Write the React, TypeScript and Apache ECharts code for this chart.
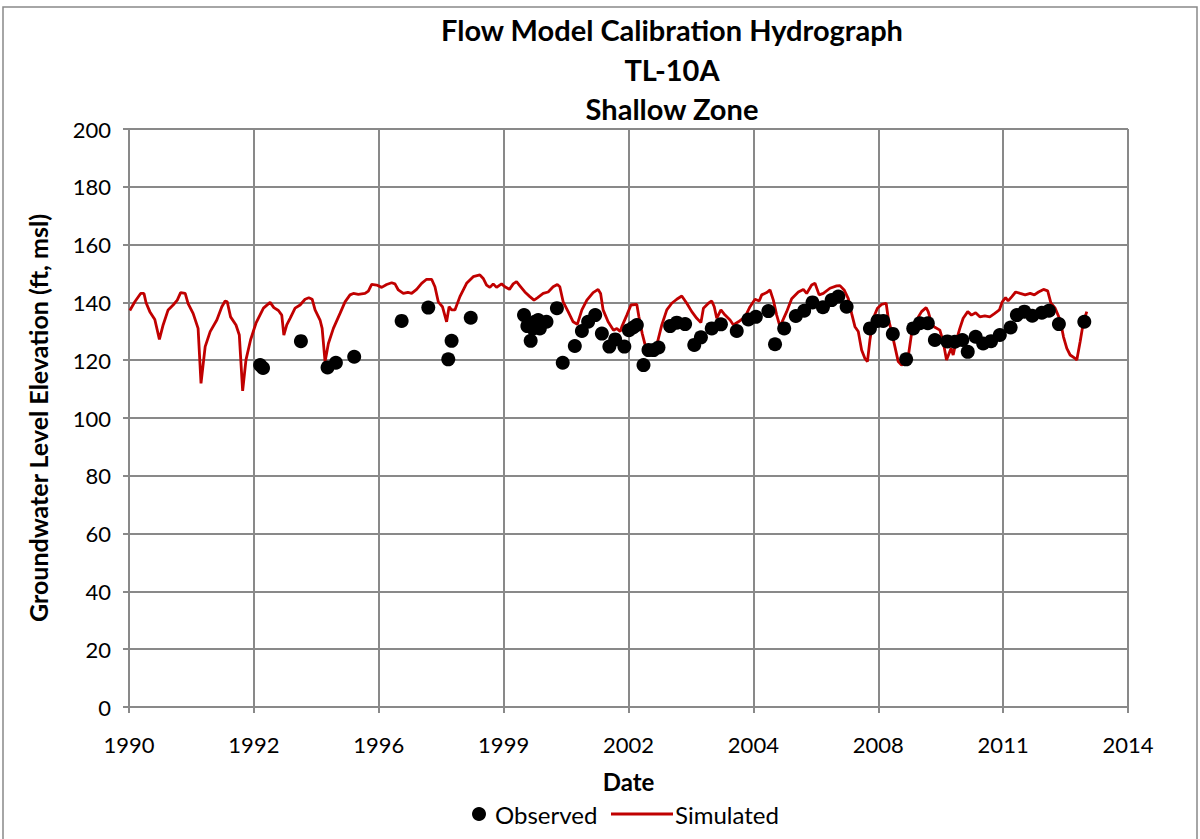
import React, { useEffect, useRef } from "react";
import * as echarts from "echarts";

const xTickLabels = ["1990", "1992", "1996", "1999", "2002", "2004", "2008", "2011", "2014"];

// Simulated groundwater elevation: [decimal year, ft msl]
const simYears = [
  1990.02, 1990.14, 1990.28, 1990.36, 1990.41, 1990.5, 1990.62, 1990.73, 1990.82, 1990.94,
  1991.06, 1991.16, 1991.24, 1991.35, 1991.42, 1991.54, 1991.66, 1991.73, 1991.83, 1991.95,
  1992.11, 1992.23, 1992.31, 1992.36, 1992.44, 1992.57, 1992.65, 1992.73, 1992.81, 1992.92,
  1993.05, 1993.23, 1993.39, 1993.48, 1993.59, 1993.67, 1993.72, 1993.79, 1993.87, 1993.99,
  1994.11, 1994.23, 1994.32, 1994.4, 1994.47, 1994.59, 1994.64, 1994.71, 1994.79, 1994.91,
  1995.07, 1995.19, 1995.31, 1995.39, 1995.51, 1995.67, 1995.75, 1995.83, 1995.95, 1996.07,
  1996.19, 1996.31, 1996.39, 1996.47, 1996.59, 1996.7, 1996.79, 1996.91, 1997.03, 1997.15,
  1997.27, 1997.35, 1997.43, 1997.53, 1997.63, 1997.69, 1997.75, 1997.83, 1997.95, 1998.11,
  1998.27, 1998.43, 1998.51, 1998.59, 1998.67, 1998.75, 1998.83, 1998.95, 1999.03, 1999.14,
  1999.23, 1999.31, 1999.41, 1999.51, 1999.63, 1999.73, 1999.81, 1999.95, 2000.07, 2000.19,
  2000.29, 2000.35, 2000.43, 2000.55, 2000.67, 2000.77, 2000.88, 2001.0, 2001.15, 2001.27,
  2001.33, 2001.39, 2001.51, 2001.64, 2001.72, 2001.8, 2001.84, 2001.96, 2002.06, 2002.2,
  2002.25, 2002.33, 2002.41, 2002.48, 2002.57, 2002.68, 2002.8, 2002.92, 2003.04, 2003.16,
  2003.28, 2003.4, 2003.52, 2003.64, 2003.74, 2003.8, 2003.92, 2004.0, 2004.06, 2004.12,
  2004.22, 2004.32, 2004.44, 2004.52, 2004.64, 2004.8, 2004.92, 2005.04, 2005.14, 2005.2,
  2005.32, 2005.4, 2005.48, 2005.56, 2005.64, 2005.8, 2005.92, 2006.08, 2006.2, 2006.28,
  2006.4, 2006.48, 2006.58, 2006.68, 2006.84, 2007.0, 2007.08, 2007.18, 2007.28, 2007.36,
  2007.44, 2007.52, 2007.6, 2007.68, 2007.74, 2007.8, 2007.88, 2007.98, 2008.08, 2008.19,
  2008.24, 2008.32, 2008.4, 2008.48, 2008.56, 2008.64, 2008.72, 2008.8, 2008.92, 2009.04,
  2009.15, 2009.2, 2009.28, 2009.34, 2009.48, 2009.56, 2009.64, 2009.75, 2009.8, 2009.88,
  2009.96, 2010.04, 2010.15, 2010.24, 2010.34, 2010.44, 2010.56, 2010.68, 2010.8, 2010.91,
  2010.98, 2011.06, 2011.12, 2011.21, 2011.3, 2011.41, 2011.53, 2011.65, 2011.75, 2011.85,
  2011.97, 2012.07, 2012.15, 2012.25, 2012.37, 2012.45, 2012.53, 2012.61, 2012.73, 2012.77,
  2012.85, 2012.93, 2013.01,
];
const simElev = [
  137.2, 140.2, 143.1, 143.1, 139.9, 136.8, 134.1, 127.2, 132.2, 137.4,
  139.1, 140.8, 143.4, 143.1, 139.6, 136.2, 131.0, 112.0, 124.7, 129.9,
  133.9, 138.5, 140.5, 140.2, 135.0, 132.2, 128.7, 109.4, 120.1, 127.0,
  132.8, 138.0, 140.0, 138.2, 137.2, 135.6, 128.7, 132.2, 134.5, 138.0,
  139.1, 141.1, 141.6, 141.1, 137.4, 133.9, 131.0, 119.5, 125.8, 131.0,
  136.2, 140.2, 142.6, 143.1, 142.8, 143.1, 143.9, 146.2, 146.0, 145.2,
  146.2, 146.8, 146.4, 144.3, 143.1, 143.5, 143.1, 144.5, 146.6, 148.0,
  148.0, 145.4, 140.2, 138.5, 133.3, 138.5, 137.4, 137.4, 142.0, 146.6,
  148.9, 149.5, 148.3, 146.0, 145.2, 146.4, 145.2, 146.4, 145.4, 144.5,
  146.4, 147.2, 145.4, 143.6, 142.0, 140.8, 141.6, 143.1, 143.6, 145.4,
  146.2, 145.4, 140.2, 136.8, 133.3, 132.4, 137.4, 140.8, 143.4, 144.5,
  143.1, 137.4, 133.3, 130.4, 131.0, 129.9, 131.6, 135.6, 139.1, 139.3,
  135.0, 129.2, 124.7, 121.8, 123.5, 125.3, 132.2, 137.4, 139.7, 141.1,
  142.2, 139.7, 136.8, 134.5, 133.0, 138.0, 139.7, 140.5, 138.5, 134.5,
  137.4, 135.6, 133.9, 132.2, 133.3, 135.0, 138.5, 141.1, 140.5, 142.6,
  143.4, 144.3, 140.8, 135.6, 131.6, 136.8, 141.3, 143.6, 144.5, 143.1,
  146.0, 146.6, 142.6, 143.1, 144.9, 145.7, 145.8, 144.3, 141.3, 136.2,
  131.6, 129.9, 123.5, 120.6, 119.5, 127.0, 134.5, 138.0, 139.3, 139.7,
  134.5, 129.9, 124.7, 119.5, 118.3, 118.9, 121.2, 129.2, 133.9, 136.8,
  138.2, 136.8, 132.8, 131.6, 130.4, 126.4, 120.1, 124.1, 121.8, 127.0,
  131.0, 134.5, 136.8, 135.6, 136.4, 135.0, 135.3, 135.0, 136.2, 137.4,
  140.2, 141.7, 140.5, 142.0, 143.6, 143.1, 142.6, 143.1, 142.6, 143.6,
  144.5, 144.0, 139.7, 138.0, 133.9, 128.1, 124.1, 121.8, 120.6, 120.1,
  126.4, 133.3, 136.8,
];

// Observed groundwater elevation: [decimal year, ft msl]
const obsYears = [
  1993.15, 1993.22, 1994.13, 1994.77, 1994.97, 1995.41, 1996.55, 1997.19, 1997.67, 1997.75,
  1998.21, 1999.49, 1999.57, 1999.65, 1999.71, 1999.75, 1999.83, 1999.87, 2000.03, 2000.28,
  2000.42, 2000.71, 2000.88, 2001.03, 2001.2, 2001.36, 2001.54, 2001.68, 2001.9, 2002.01,
  2002.11, 2002.2, 2002.36, 2002.48, 2002.6, 2002.72, 2003.0, 2003.16, 2003.36, 2003.58,
  2003.74, 2004.0, 2004.22, 2004.6, 2004.88, 2005.06, 2005.36, 2005.52, 2005.74, 2006.02,
  2006.22, 2006.42, 2006.67, 2006.88, 2007.04, 2007.24, 2007.8, 2007.98, 2008.12, 2008.35,
  2008.67, 2008.84, 2009.0, 2009.19, 2009.36, 2009.66, 2009.84, 2010.02, 2010.15, 2010.34,
  2010.52, 2010.71, 2010.92, 2011.18, 2011.33, 2011.51, 2011.7, 2011.93, 2012.1, 2012.34,
  2012.95,
];
const obsElev = [
  118.3, 117.3, 126.6, 117.5, 119.1, 121.2, 133.6, 138.2, 120.3, 126.7,
  134.7, 135.6, 131.8, 126.7, 131.0, 133.3, 133.9, 131.0, 133.3, 138.0,
  119.1, 124.9, 130.1, 133.3, 135.6, 129.2, 124.7, 127.2, 124.7, 130.4,
  131.3, 132.2, 118.3, 123.5, 123.5, 124.4, 131.8, 133.0, 132.5, 125.3,
  127.9, 131.0, 132.4, 130.1, 134.1, 135.0, 137.0, 125.5, 131.0, 135.3,
  137.1, 140.0, 138.3, 140.8, 142.0, 138.5, 131.0, 133.6, 133.6, 129.1,
  120.3, 131.0, 132.8, 132.8, 127.0, 126.5, 126.4, 127.0, 122.9, 128.1,
  125.8, 126.6, 128.7, 131.3, 135.6, 136.8, 135.4, 136.4, 137.1, 132.5,
  133.3,
];

const FONT = "Lato, 'Open Sans', sans-serif";
const GRID_COLOR = "#898989";

export default function App() {
  const ref = useRef<HTMLDivElement>(null);

  useEffect(() => {
    if (!ref.current) return;
    const chart = echarts.init(ref.current, undefined, { renderer: "svg" });
    const simData = simYears.map((x, i) => [x, simElev[i]]);
    const obsData = obsYears.map((x, i) => [x, obsElev[i]]);

    chart.setOption({
      animation: false,
      backgroundColor: "#ffffff",
      textStyle: { fontFamily: FONT },
      title: {
        text: "Flow Model Calibration Hydrograph\nTL-10A\nShallow Zone",
        left: 667,
        top: 5,
        textAlign: "center",
        textStyle: {
          fontFamily: FONT,
          fontWeight: "bold",
          fontSize: 29,
          lineHeight: 39.5,
          color: "#000",
        },
      },
      graphic: [
        {
          type: "rect",
          shape: { x: 3, y: 7, width: 1194, height: 850 },
          style: { fill: "none", stroke: GRID_COLOR, lineWidth: 1.5 },
          silent: true,
          z: -1,
        },
      ],
      grid: { left: 129, right: 72, top: 129, bottom: 132, containLabel: false },
      legend: [
        {
          data: [{ name: "Observed", icon: "circle", itemStyle: { color: "#000", opacity: 1 } }],
          left: 467,
          top: 797,
          itemWidth: 14,
          itemHeight: 14,
          itemGap: 0,
          textStyle: { fontFamily: FONT, fontSize: 24, color: "#000", padding: [0, 0, 0, 4] },
        },
        {
          data: [{ name: "Simulated", icon: "rect", itemStyle: { color: "#C00000" } }],
          left: 606,
          top: 797,
          itemWidth: 62,
          itemHeight: 3,
          itemGap: 0,
          textStyle: { fontFamily: FONT, fontSize: 24, color: "#000", padding: [0, 0, 0, -3] },
        },
      ],
      xAxis: {
        type: "value",
        min: 1990,
        max: 2014,
        interval: 3,
        name: "Date",
        nameLocation: "middle",
        nameGap: 62,
        nameTextStyle: { fontFamily: FONT, fontWeight: "bold", fontSize: 24, color: "#000" },
        axisLine: { show: true, lineStyle: { color: GRID_COLOR, width: 2 } },
        axisTick: { show: true, length: 6, lineStyle: { color: GRID_COLOR, width: 2 } },
        axisLabel: {
          fontFamily: FONT,
          fontSize: 22,
          color: "#000",
          margin: 26,
          formatter: (v: number) => xTickLabels[Math.round((v - 1990) / 3)] ?? "",
        },
        splitLine: { show: true, lineStyle: { color: GRID_COLOR, width: 2 } },
      },
      yAxis: {
        type: "value",
        min: 0,
        max: 200,
        interval: 20,
        name: "Groundwater Level Elevation (ft, msl)",
        nameLocation: "middle",
        nameGap: 79,
        nameTextStyle: { fontFamily: FONT, fontWeight: "bold", fontSize: 25, color: "#000" },
        axisLine: { show: true, lineStyle: { color: GRID_COLOR, width: 2 } },
        axisTick: { show: true, length: 6, lineStyle: { color: GRID_COLOR, width: 2 } },
        axisLabel: { fontFamily: FONT, fontSize: 22, color: "#000", margin: 18 },
        splitLine: { show: true, lineStyle: { color: GRID_COLOR, width: 2 } },
      },
      series: [
        {
          name: "Simulated",
          type: "line",
          data: simData,
          showSymbol: false,
          symbol: "none",
          lineStyle: { color: "#C00000", width: 2.8 },
          itemStyle: { color: "#C00000" },
          z: 2,
        },
        {
          name: "Observed",
          type: "scatter",
          data: obsData,
          symbol: "circle",
          symbolSize: 14,
          itemStyle: { color: "#000000", opacity: 1 },
          z: 3,
        },
      ],
    });

    return () => chart.dispose();
  }, []);

  return (
    <div
      ref={ref}
      style={{ position: "fixed", left: 0, top: 0, width: 1200, height: 839, background: "#fff" }}
    />
  );
}
